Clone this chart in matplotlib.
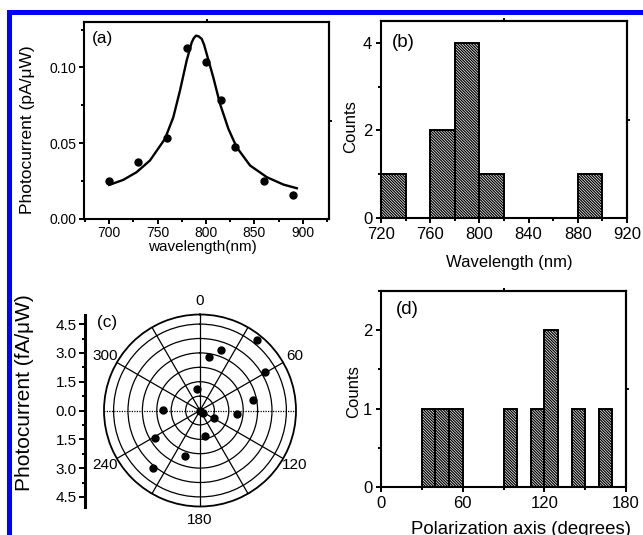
import numpy as np
import matplotlib
matplotlib.use('Agg')
import matplotlib.pyplot as plt
from matplotlib.patches import Rectangle
from matplotlib.ticker import MultipleLocator, FixedLocator, FuncFormatter

plt.rcParams['font.family'] = ['Liberation Sans', 'DejaVu Sans']
plt.rcParams['hatch.linewidth'] = 0.9

# ---------------- data ----------------
# (a) photocurrent spectrum
wl_pts = [700, 730, 760, 780, 800, 815, 830, 860, 890]
pc_pts = [0.0254, 0.0379, 0.0535, 0.1129, 0.1034, 0.0786, 0.0473, 0.0254, 0.0160]
wl_fit = [700, 714.5, 728.3, 742.1, 757.6, 766.2, 773.1, 780, 785.2, 787.5, 789.7,
          792.5, 795.6, 798, 800.7, 807.5, 814.5, 823.1, 831.7, 845.5, 862.8, 880, 893.8]
pc_fit = [0.0225, 0.0258, 0.0309, 0.0386, 0.0529, 0.0671, 0.0847, 0.1045, 0.1165, 0.1195,
          0.1210, 0.1205, 0.1188, 0.1150, 0.1089, 0.0935, 0.0759, 0.0595, 0.0473, 0.0353,
          0.0276, 0.0227, 0.0203]

# (b) wavelength histogram
wl_bin_left = [720, 760, 780, 800, 880]
wl_counts = [1, 2, 4, 1, 1]
wl_bin_width = 20

# (c) polar photocurrent
pol_angle = [39, 19, 9.5, 59.5, 351, 79, 271, 96, 117, 168, 239, 198, 219, 0, 135]
pol_current = [4.72, 3.35, 2.80, 3.90, 1.14, 2.83, 1.92, 1.93, 0.84, 1.37, 2.74, 2.48, 3.87, 0.0, 0.20]
pol_rings = [0.75, 1.5, 2.25, 3.0, 3.75, 4.5]
pol_rmax = 5.0

# (d) polarization axis histogram
ang_bin_left = [30, 40, 50, 90, 110, 120, 140, 160]
ang_counts = [1, 1, 1, 1, 1, 2, 1, 1]
ang_bin_width = 10

# ---------------- figure ----------------
W, H = 643, 535
fig = plt.figure(figsize=(W / 100, H / 100), dpi=100)


def box(l, t, r, b):
    return [l / W, 1 - b / H, (r - l) / W, (b - t) / H]


def fpx(x, y):
    return x / W, 1 - y / H


HATCH = '\\' * 12


def style(ax, fs, pad=2.5):
    for s in ax.spines.values():
        s.set_linewidth(1.5)
    ax.tick_params(which='both', direction='out', width=1.4, labelsize=fs, pad=pad)
    ax.tick_params(which='major', length=3.8)
    ax.tick_params(which='minor', length=2.4)


def mid_marks(ax):
    x0, x1 = ax.get_xlim()
    y0, y1 = ax.get_ylim()
    sx = ax.secondary_xaxis('top')
    sx.set_xticks([(x0 + x1) / 2])
    sx.set_xticklabels([])
    sx.tick_params(direction='out', length=2.5, width=1.4)
    sx.spines['top'].set_linewidth(1.5)
    sy = ax.secondary_yaxis('right')
    sy.set_yticks([(y0 + y1) / 2])
    sy.set_yticklabels([])
    sy.tick_params(direction='out', length=2.5, width=1.4)
    sy.spines['right'].set_linewidth(1.5)


# ---- (a)
axa = fig.add_axes(box(84, 22, 329, 219))
axa.plot(wl_fit, pc_fit, color='black', lw=1.7)
axa.plot(wl_pts, pc_pts, 'o', color='black', ms=5)
axa.set_xlim(674, 927)
axa.set_ylim(0, 0.13)
axa.xaxis.set_major_locator(FixedLocator([700, 750, 800, 850, 900]))
axa.xaxis.set_minor_locator(MultipleLocator(25))
axa.yaxis.set_major_locator(FixedLocator([0, 0.05, 0.10]))
axa.yaxis.set_minor_locator(MultipleLocator(0.025))
axa.yaxis.set_major_formatter(FuncFormatter(lambda v, p: f'{v:.2f}'))
style(axa, 10, pad=1.5)
mid_marks(axa)
axa.set_xlabel('wavelength(nm)', fontsize=11, va='center')
axa.xaxis.set_label_coords(*fpx(202.5, 246.5), transform=fig.transFigure)
axa.set_ylabel('Photocurrent (pA/μW)', fontsize=12.5, va='center')
axa.yaxis.set_label_coords(*fpx(28, 130), transform=fig.transFigure)
fig.text(*fpx(92, 39), '(a)', fontsize=12.4, ha='left', va='center')

# ---- (b)
axb = fig.add_axes(box(381, 21, 627, 218))
axb.bar(wl_bin_left, wl_counts, width=wl_bin_width, align='edge', color='white',
        edgecolor='black', hatch=HATCH, lw=1.4)
axb.set_xlim(720, 920)
axb.set_ylim(0, 4.5)
axb.xaxis.set_major_locator(MultipleLocator(40))
axb.xaxis.set_minor_locator(MultipleLocator(20))
axb.yaxis.set_major_locator(FixedLocator([0, 2, 4]))
axb.yaxis.set_minor_locator(MultipleLocator(1))
style(axb, 12)
mid_marks(axb)
axb.set_xlabel('Wavelength (nm)', fontsize=12, va='center')
axb.xaxis.set_label_coords(*fpx(509, 262), transform=fig.transFigure)
axb.set_ylabel('Counts', fontsize=12, va='center')
axb.yaxis.set_label_coords(*fpx(351, 127), transform=fig.transFigure)
fig.text(*fpx(392, 42.5), '(b)', fontsize=13.5, ha='left', va='center')

# ---- (c)
axc = fig.add_axes(box(104, 314.5, 296, 506.5), projection='polar')
axc.set_theta_zero_location('N')
axc.set_theta_direction(-1)
axc.plot(np.deg2rad(pol_angle), pol_current, 'o', color='black', ms=5, clip_on=False)
axc.set_ylim(0, pol_rmax)
axc.set_rgrids(pol_rings, labels=[''] * len(pol_rings))
tg_angles = list(range(0, 360, 30))
tg_labels = [str(a) if a % 60 == 0 else '' for a in tg_angles]
axc.set_thetagrids(tg_angles, labels=tg_labels, fontsize=11)
axc.grid(True, color='black', lw=0.9, ls='-')
for ang, gl in zip(tg_angles, axc.xaxis.get_gridlines()):
    if ang in (90, 270):
        gl.set_linestyle((0, (1, 1)))
        gl.set_linewidth(0.9)
axc.spines['polar'].set_linewidth(1.3)
axc.tick_params(axis='x', pad=-1)

cax = fig.add_axes(box(85, 314.5, 85.5, 506.5))
cax.set_ylim(-pol_rmax, pol_rmax)
cax.patch.set_visible(False)
for k in ('top', 'right', 'bottom'):
    cax.spines[k].set_visible(False)
cax.spines['left'].set_linewidth(2.2)
cax.set_xticks([])
cax.yaxis.set_major_locator(MultipleLocator(1.5))
cax.yaxis.set_minor_locator(MultipleLocator(0.75))
cax.yaxis.set_major_formatter(FuncFormatter(lambda v, p: f'{abs(v):.1f}'))
cax.tick_params(which='both', direction='out', width=1.4, labelsize=11, pad=2)
cax.tick_params(which='major', length=4)
cax.tick_params(which='minor', length=2)
cax.set_ylim(-pol_rmax, pol_rmax)
cax.set_ylabel('Photocurrent (fA/μW)', fontsize=15, va='center')
cax.yaxis.set_label_coords(*fpx(24.5, 392.5), transform=fig.transFigure)
fig.text(*fpx(97, 323), '(c)', fontsize=12.3, ha='left', va='center')

# ---- (d)
axd = fig.add_axes(box(381, 291, 626, 487))
axd.bar(ang_bin_left, ang_counts, width=ang_bin_width, align='edge', color='white',
        edgecolor='black', hatch=HATCH, lw=1.4)
axd.set_xlim(0, 180)
axd.set_ylim(0, 2.5)
axd.xaxis.set_major_locator(MultipleLocator(60))
axd.xaxis.set_minor_locator(MultipleLocator(30))
axd.yaxis.set_major_locator(MultipleLocator(1))
axd.yaxis.set_minor_locator(MultipleLocator(0.5))
style(axd, 12)
mid_marks(axd)
axd.set_xlabel('Polarization axis (degrees)', fontsize=13.4, va='center')
axd.xaxis.set_label_coords(*fpx(521, 529.5), transform=fig.transFigure)
axd.set_ylabel('Counts', fontsize=12, va='center')
axd.yaxis.set_label_coords(*fpx(354, 391.5), transform=fig.transFigure)
fig.text(*fpx(396, 310), '(d)', fontsize=13.5, ha='left', va='center')

# ---- blue frame
fig.add_artist(Rectangle(fpx(8.5, 600), 2.0, (600 - 11.5) / H, transform=fig.transFigure,
                         fill=False, edgecolor='#0000ff', lw=3.6, clip_on=False))

fig.savefig('out.png', dpi=100)
